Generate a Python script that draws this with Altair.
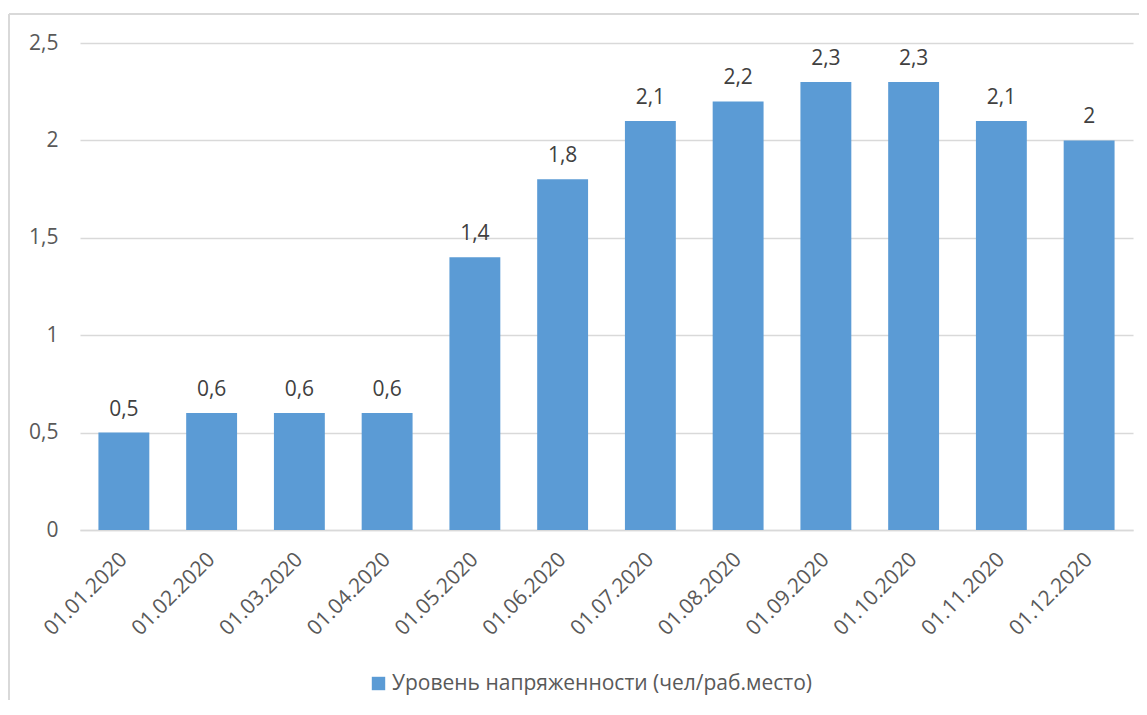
import altair as alt
import pandas as pd

dates = ["01.01.2020", "01.02.2020", "01.03.2020", "01.04.2020", "01.05.2020", "01.06.2020",
         "01.07.2020", "01.08.2020", "01.09.2020", "01.10.2020", "01.11.2020", "01.12.2020"]
values = [0.5, 0.6, 0.6, 0.6, 1.4, 1.8, 2.1, 2.2, 2.3, 2.3, 2.1, 2.0]
series_name = "Уровень напряженности (чел/раб.место)"

df = pd.DataFrame({"date": dates, "value": values, "series": series_name})

FONT = "Open Sans"
FS = 21
W, H = 1053, 487

x = alt.X("date:N", sort=dates, title=None,
          scale=alt.Scale(paddingInner=0.42, paddingOuter=0.21),
          axis=alt.Axis(labelAngle=-45, labelAlign="right", labelBaseline="middle",
                        labelPadding=26, ticks=False, domainColor="#D9D9D9", domainWidth=1.3,
                        labelFontSize=FS, labelFont=FONT, labelColor="#595959"))
y = alt.Y("value:Q", title=None,
          scale=alt.Scale(domain=[0, 2.5], nice=False),
          axis=alt.Axis(values=[0, 0.5, 1, 1.5, 2, 2.5], ticks=False, domain=False,
                        gridColor="#D9D9D9", gridWidth=1.3, labelPadding=22,
                        labelFontSize=FS, labelFont=FONT, labelColor="#595959",
                        labelExpr="replace(format(datum.value, '.1~f'), '.', ',')"))

base = alt.Chart(df)

bars = base.mark_bar().encode(
    x=x, y=y,
    color=alt.Color("series:N", scale=alt.Scale(domain=[series_name], range=["#5B9BD5"]),
                    legend=alt.Legend(title=None, orient="none", legendX=288, legendY=630,
                                      symbolType="square", symbolSize=180, symbolStrokeWidth=0,
                                      labelFontSize=FS, labelFont=FONT, labelColor="#595959",
                                      labelOffset=3, labelLimit=0)),
)

labels = base.transform_calculate(
    lab="replace(format(datum.value, '.1~f'), '.', ',')"
).mark_text(baseline="alphabetic", dy=-17, fontSize=FS, font=FONT, color="#404040").encode(
    x=alt.X("date:N", sort=dates), y="value:Q", text="lab:N"
)

border_top = alt.Chart(df).mark_rule(color="#D9D9D9", strokeWidth=1.3).encode(
    x=alt.value(-71), x2=alt.value(1100), y=alt.value(-29)
)
border_left = alt.Chart(df).mark_rule(color="#D9D9D9", strokeWidth=1.3).encode(
    x=alt.value(-71), y=alt.value(-29), y2=alt.value(800)
)

chart = alt.layer(border_top, border_left, bars, labels).properties(
    width=W, height=H,
    autosize=alt.AutoSizeParams(type="none"),
    padding={"left": 72, "top": 35, "right": 6, "bottom": 170},
).configure_view(stroke=None)

chart.save("out.html", embed_options={"renderer": "svg", "actions": False})
